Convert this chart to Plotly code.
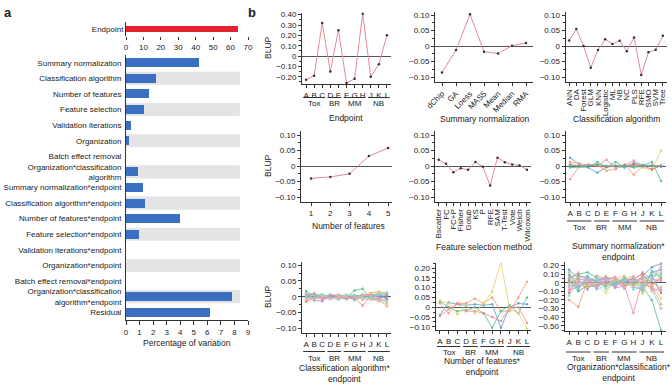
import plotly.graph_objects as go

W, H = 672, 390

# ---------------- DATA ----------------
endpoint_label = ["Endpoint"]
endpoint_pct = [64.5]

factor_labels = [
    "Summary normalization", "Classification algorithm", "Number of features",
    "Feature selection", "Validation iterations", "Organization", "Batch effect removal",
    "Organization*classification<br>algorithm", "Summary normalization*endpoint",
    "Classification algorithm*endpoint", "Number of features*endpoint",
    "Feature selection*endpoint", "Validation iterations*endpoint",
    "Organization*endpoint", "Batch effect removal*endpoint",
    "Organization*classification<br>algorithm*endpoint", "Residual",
]
factor_pct = [5.4, 2.2, 1.7, 1.35, 0.4, 0.2, 0.0, 0.9, 1.25, 1.4, 4.0, 0.95, 0.0, 0.0, 0.0, 7.8, 6.2]

endpoints = ["A", "B", "C", "D", "E", "F", "G", "H", "J", "K", "L"]
endpoint_groups = ["Tox", "BR", "MM", "NB"]
group_members = [["A", "B", "C"], ["D", "E"], ["F", "G", "H"], ["J", "K", "L"]]
blup_endpoint = [-0.23, -0.19, 0.32, -0.15, 0.25, -0.26, -0.22, 0.41, -0.20, -0.08, 0.20]

norm_methods = ["dChip", "GA", "Loess", "MAS5", "Mean", "Median", "RMA"]
blup_norm = [-0.085, -0.013, 0.103, -0.018, -0.024, 0.001, 0.010]

class_algs = ["ANN", "DA", "Forest", "GLM", "KNN", "Logistic", "ML", "NB", "NC", "PLS", "RFE", "SMO", "SVM", "Tree"]
blup_class = [0.018, 0.055, 0.0, -0.070, -0.013, 0.022, 0.007, 0.017, -0.017, 0.028, -0.093, -0.020, -0.012, 0.033]

n_features = [1, 2, 3, 4, 5]
blup_nfeat = [-0.040, -0.035, -0.025, 0.032, 0.058]

fs_methods = ["Bscatter", "FC", "FC+P", "Fisher", "Golub", "KS", "P", "RFE", "SAM", "T-Test", "Vote", "Welch", "Wilcoxon"]
blup_fs = [0.020, 0.007, -0.020, -0.007, -0.012, 0.013, -0.002, -0.063, 0.027, 0.012, 0.005, 0.002, -0.012]

# Summary normalization * endpoint (one list per normalization method)
sn_dChip = [0.027, 0.005, -0.005, -0.022, -0.003, 0.000, -0.005, 0.010, 0.003, 0.000, 0.002]
sn_GA = [0.013, 0.008, 0.003, 0.003, -0.015, -0.010, 0.005, -0.028, 0.000, 0.003, 0.000]
sn_Loess = [-0.005, -0.003, -0.003, 0.013, -0.003, 0.013, -0.003, 0.005, 0.002, 0.013, -0.048]
sn_MAS5 = [-0.043, -0.002, 0.005, 0.003, 0.020, -0.005, 0.002, 0.018, 0.000, 0.000, 0.000]
sn_Mean = [0.003, 0.000, 0.002, 0.000, 0.000, 0.003, 0.000, 0.000, -0.005, -0.013, 0.050]
sn_Median = [0.005, 0.000, 0.000, 0.000, -0.003, 0.000, 0.002, 0.003, 0.000, -0.010, 0.000]
sn_RMA = [0.000, 0.000, 0.000, 0.005, 0.000, 0.000, 0.000, -0.005, 0.000, 0.000, -0.002]

# Classification algorithm * endpoint
ca_ANN = [0.010, -0.005, 0.003, 0.002, -0.004, 0.003, 0.000, 0.002, 0.005, 0.008, -0.006]
ca_DA = [-0.012, 0.008, -0.004, 0.005, 0.004, -0.006, 0.005, -0.010, 0.012, 0.015, 0.004]
ca_Forest = [0.018, 0.003, 0.006, -0.003, 0.002, -0.002, 0.020, 0.025, -0.006, -0.012, -0.010]
ca_GLM = [-0.006, 0.002, -0.008, 0.006, -0.006, 0.004, -0.005, -0.028, 0.004, -0.004, 0.006]
ca_KNN = [0.004, 0.012, 0.002, -0.004, 0.006, 0.005, 0.003, 0.006, 0.010, 0.016, 0.012]
ca_Logistic = [-0.015, -0.003, 0.004, 0.003, -0.003, -0.004, -0.006, 0.004, -0.003, -0.007, 0.002]
ca_ML = [0.006, 0.000, -0.002, -0.006, 0.004, 0.002, -0.010, 0.000, 0.002, 0.004, -0.003]
ca_NB = [0.002, -0.012, -0.014, 0.003, 0.000, -0.008, 0.004, 0.003, -0.002, 0.003, 0.008]
ca_NC = [-0.004, 0.006, 0.005, -0.002, -0.010, 0.002, 0.006, -0.004, -0.008, -0.006, -0.018]
ca_PLS = [0.012, 0.004, -0.003, 0.008, 0.003, -0.006, -0.002, 0.008, 0.006, 0.010, 0.014]
ca_RFE = [-0.010, -0.006, 0.004, -0.006, -0.004, 0.004, 0.002, -0.006, -0.010, -0.014, -0.022]
ca_SMO = [0.003, 0.010, -0.006, 0.002, 0.006, -0.003, -0.004, 0.003, 0.004, -0.002, -0.006]
ca_SVM = [-0.002, -0.004, 0.008, -0.004, 0.002, 0.006, 0.004, -0.002, -0.004, 0.006, 0.010]
ca_Tree = [0.005, -0.008, -0.002, -0.008, 0.004, -0.002, -0.006, 0.004, 0.002, -0.010, -0.030]

# Number of features * endpoint
nf_1 = [-0.040, 0.025, 0.015, 0.010, 0.015, 0.010, 0.015, -0.105, 0.000, 0.020, 0.015]
nf_2 = [0.020, -0.030, 0.020, 0.020, 0.045, 0.020, 0.050, -0.020, -0.020, 0.050, 0.130]
nf_3 = [0.030, 0.000, -0.020, -0.015, 0.000, -0.030, -0.105, -0.020, 0.010, -0.030, 0.050]
nf_4 = [-0.045, -0.010, 0.020, -0.020, -0.020, -0.030, -0.050, -0.070, 0.000, 0.000, -0.080]
nf_5 = [0.035, 0.020, -0.035, 0.010, -0.030, 0.020, 0.080, 0.230, -0.010, -0.030, -0.110]

# Organization * classification algorithm * endpoint (subset of combinations)
oc_01 = [0.15, 0.05, 0.02, -0.03, 0.01, 0.00, 0.03, -0.02, 0.08, 0.18, 0.22]
oc_02 = [-0.20, -0.28, 0.02, 0.03, -0.01, 0.02, 0.00, 0.05, -0.02, -0.05, 0.10]
oc_03 = [0.05, 0.10, 0.12, 0.06, 0.03, -0.02, 0.02, 0.01, -0.05, -0.20, -0.55]
oc_04 = [-0.08, -0.05, 0.00, 0.08, 0.05, 0.02, -0.03, -0.35, 0.03, 0.02, -0.08]
oc_05 = [0.10, -0.02, -0.06, -0.02, -0.12, 0.03, 0.05, 0.08, -0.13, 0.05, 0.20]
oc_06 = [-0.12, 0.08, 0.05, 0.02, 0.06, -0.05, 0.02, 0.04, 0.10, -0.02, 0.05]
oc_07 = [0.02, -0.10, -0.03, -0.05, 0.04, 0.06, -0.02, 0.00, 0.05, 0.08, -0.12]
oc_08 = [0.08, 0.03, -0.08, 0.05, 0.00, -0.04, 0.06, -0.05, -0.08, 0.12, 0.15]
oc_09 = [-0.05, 0.06, 0.08, -0.08, -0.03, 0.04, -0.06, 0.02, 0.04, -0.08, -0.30]
oc_10 = [0.12, -0.06, 0.03, 0.00, 0.08, -0.02, 0.03, 0.06, -0.03, 0.10, 0.08]
oc_11 = [-0.02, 0.02, -0.05, 0.04, -0.05, 0.05, 0.08, -0.04, 0.02, -0.03, -0.18]
oc_12 = [0.04, -0.04, 0.06, -0.06, 0.02, -0.06, -0.04, 0.03, 0.12, 0.04, 0.02]
oc_13 = [-0.15, 0.00, -0.02, 0.06, -0.08, 0.01, 0.04, -0.08, -0.05, 0.06, 0.12]
oc_14 = [0.06, 0.12, 0.01, -0.04, 0.03, 0.07, -0.05, 0.02, 0.06, -0.10, -0.05]
oc_15 = [-0.04, -0.03, 0.04, 0.02, 0.05, -0.03, 0.01, 0.07, -0.06, 0.02, 0.18]
oc_16 = [0.00, 0.04, -0.04, -0.02, -0.02, 0.03, -0.02, -0.03, 0.08, -0.04, -0.25]
oc_17 = [0.09, -0.08, 0.07, 0.01, -0.04, -0.01, 0.05, 0.00, -0.10, 0.14, 0.06]
oc_18 = [-0.09, 0.01, -0.01, -0.03, 0.07, 0.04, -0.07, 0.05, 0.00, -0.06, -0.10]

# ---------------- STYLE ----------------
FONT = "Liberation Sans, Arial, Helvetica, sans-serif"
RED = "#e3232b"
BLUE = "#3b6fc1"
BAND = "#e3e4e5"
PINK = "#e5899a"
AXC = "#333333"
PAL = ["#5b9bd5", "#f29b72", "#4fbf8f", "#f08c9c", "#e8cf6a", "#e86a5e", "#3fb0b0",
       "#a58fd6", "#8ec5ef", "#9ed39c", "#f7bf7a", "#cf8fd8", "#7fd8e3", "#f4a7a7",
       "#b5b5e8", "#d8b56a", "#6fc7b6", "#e79bc2"]


def dx(a, b):
    return [a / W, b / W]


def dy(top, bottom):
    return [1 - bottom / H, 1 - top / H]


def py(p):
    return 1 - p / H


def px(p):
    return p / W


AX = dict(showline=True, linecolor=AXC, linewidth=1, ticks="outside", ticklen=3,
          tickcolor=AXC, tickwidth=1, tickfont=dict(size=8, color="#222", family=FONT),
          showgrid=False, zeroline=False, automargin=False, fixedrange=True)

fig = go.Figure()

# ---------------- PANEL A ----------------
fig.add_trace(go.Bar(x=endpoint_pct, y=endpoint_label, orientation="h", width=0.45,
                     marker=dict(color=RED, line=dict(width=0)), xaxis="x", yaxis="y",
                     showlegend=False))
fig.add_trace(go.Bar(x=factor_pct, y=factor_labels, orientation="h", width=0.58,
                     marker=dict(color=BLUE, line=dict(width=0)), xaxis="x2", yaxis="y2",
                     showlegend=False))

layout = dict(
    width=W, height=H, autosize=False, margin=dict(l=0, r=0, t=0, b=0, pad=0), template="none",
    paper_bgcolor="white", plot_bgcolor="rgba(0,0,0,0)", showlegend=False,
    font=dict(family=FONT, size=8, color="#222"),
)

layout["xaxis"] = dict(AX, domain=dx(126, 248), range=[0, 70], anchor="y",
                       tickvals=[0, 10, 20, 30, 40, 50, 60, 70], showline=False, ticklen=3)
layout["yaxis"] = dict(AX, domain=dy(22, 36), anchor="x", ticks="", type="category")
layout["xaxis2"] = dict(AX, domain=dx(126, 248), range=[0, 9], anchor="y2", dtick=1, ticklen=4)
layout["yaxis2"] = dict(AX, domain=dy(55, 320), anchor="x2", ticks="", autorange="reversed",
                        type="category", ticklabelstandoff=2)

shapes = []
annotations = []


def note(text, x, y, xref="paper", size=8.5, **kw):
    annotations.append(dict(text=text, xref=xref, yref="paper", x=x, y=y, showarrow=False,
                            xanchor="center", yanchor="middle", font=dict(size=size), **kw))


for i in range(len(factor_labels)):
    if i % 2 == 1:
        shapes.append(dict(type="rect", xref="x2", yref="y2", x0=0, x1=8.4, y0=i - 0.42, y1=i + 0.42,
                           fillcolor=BAND, line=dict(width=0), layer="below"))

note("Percentage of variation", 4.5, py(343), xref="x2")
note("<b>a</b>", px(8), py(12), size=13)
note("<b>b</b>", px(252), py(12), size=13)


# ---------------- PANEL B ----------------
def ytick_set(vals):
    txt = []
    for v in vals:
        if abs(v) < 1e-9:
            txt.append("0")
        elif v < 0:
            txt.append("\u2212" + f"{-v:.2f}")
        else:
            txt.append(f"{v:.2f}")
    return txt


def add_panel(k, xdom, ydom, yrange, yvals, minor_dt, xcfg):
    xa = "xaxis%d" % k
    ya = "yaxis%d" % k
    layout[xa] = dict(AX, domain=dx(*xdom), anchor="y%d" % k, **xcfg)
    layout[ya] = dict(AX, domain=dy(*ydom), anchor="x%d" % k, range=yrange,
                      tickvals=yvals, ticktext=ytick_set(yvals), zeroline=True,
                      zerolinecolor="#555", zerolinewidth=1,
                      minor=dict(ticks="outside", ticklen=2, dtick=minor_dt, tickcolor=AXC))


def cat_cfg(cats, angle=0):
    return dict(type="category", categoryorder="array", categoryarray=cats,
                range=[-0.5, len(cats) - 0.5], tickmode="array", tickvals=cats, ticktext=cats,
                tickangle=angle)


y10 = [-0.10, -0.05, 0, 0.05, 0.10]

# 3: endpoint
add_panel(3, (302, 391), (12.6, 84), [-0.27, 0.42], [-0.2, -0.1, 0, 0.1, 0.2, 0.3, 0.4], 0.05,
          cat_cfg(endpoints))
# 4: summary normalization
add_panel(4, (435, 533), (12, 82), [-0.116, 0.11], y10, 0.025, cat_cfg(norm_methods, -45))
# 5: classification algorithm
add_panel(5, (565.5, 666.5), (12, 82), [-0.116, 0.11], y10, 0.025, cat_cfg(class_algs, -90))
# 6: number of features
add_panel(6, (301, 392), (131, 202), [-0.116, 0.113], y10, 0.025,
          dict(range=[0.48, 5.2], tickvals=n_features, tickangle=0))
# 7: feature selection
add_panel(7, (435, 530.6), (131, 202), [-0.116, 0.113], y10, 0.025, cat_cfg(fs_methods, -90))
# 8: summary normalization * endpoint
add_panel(8, (565.5, 665.6), (131, 202), [-0.116, 0.113], y10, 0.025, cat_cfg(endpoints))
# 9: classification * endpoint
add_panel(9, (302, 391), (262, 333), [-0.115, 0.11], y10, 0.025, cat_cfg(endpoints))
# 10: number of features * endpoint
add_panel(10, (435.6, 531.4), (263, 330), [-0.116, 0.226],
          [-0.10, -0.05, 0, 0.05, 0.10, 0.15, 0.20], 0.025, cat_cfg(endpoints))
# 11: organization * classification * endpoint
add_panel(11, (564.5, 665.6), (262, 331), [-0.56, 0.24],
          [-0.5, -0.4, -0.3, -0.2, -0.1, 0, 0.1, 0.2], 0.05, cat_cfg(endpoints))


def single(k, xs, ys):
    fig.add_trace(go.Scatter(x=xs, y=ys, mode="lines+markers", xaxis="x%d" % k, yaxis="y%d" % k,
                             line=dict(color=PINK, width=1),
                             marker=dict(size=2.5, color="#333"), showlegend=False))


def multi(k, series):
    for j, ys in enumerate(series):
        c = PAL[j % len(PAL)]
        fig.add_trace(go.Scatter(x=endpoints, y=ys, mode="lines+markers", xaxis="x%d" % k,
                                 yaxis="y%d" % k, line=dict(color=c, width=0.9),
                                 marker=dict(size=2.5, color=c), opacity=0.9, showlegend=False))


single(3, endpoints, blup_endpoint)
single(4, norm_methods, blup_norm)
single(5, class_algs, blup_class)
single(6, n_features, blup_nfeat)
single(7, fs_methods, blup_fs)
multi(8, [sn_dChip, sn_GA, sn_Loess, sn_MAS5, sn_Mean, sn_Median, sn_RMA])
multi(9, [ca_ANN, ca_DA, ca_Forest, ca_GLM, ca_KNN, ca_Logistic, ca_ML, ca_NB, ca_NC, ca_PLS,
          ca_RFE, ca_SMO, ca_SVM, ca_Tree])
multi(10, [nf_1, nf_2, nf_3, nf_4, nf_5])
multi(11, [oc_01, oc_02, oc_03, oc_04, oc_05, oc_06, oc_07, oc_08, oc_09, oc_10, oc_11, oc_12,
           oc_13, oc_14, oc_15, oc_16, oc_17, oc_18])


# group labels under endpoint axes
def groups(k, line_y, text_y):
    for g, members in zip(endpoint_groups, group_members):
        i0 = endpoints.index(members[0])
        i1 = endpoints.index(members[-1])
        shapes.append(dict(type="line", xref="x%d" % k, yref="paper", x0=i0 - 0.35, x1=i1 + 0.35,
                           y0=py(line_y), y1=py(line_y), line=dict(color=AXC, width=1)))
        note(g, (i0 + i1) / 2, py(text_y), xref="x%d" % k, size=8)


groups(3, 97.5, 103.5)
groups(8, 221, 227)
groups(9, 351.5, 358)
groups(10, 346.5, 352.5)
groups(11, 352, 358)

titles = [
    ("Endpoint", 346, 118),
    ("Summary normalization", 485, 119),
    ("Classification algorithm", 616, 119),
    ("Number of features", 348, 226),
    ("Feature selection method", 484, 247),
    ("Summary normalization*<br>endpoint", 618, 251.5),
    ("Classification algorithm*<br>endpoint", 345, 373),
    ("Number of features*<br>endpoint", 482, 366),
    ("Organization*classification*<br>endpoint", 619, 372.5),
]
for t, x, y in titles:
    note(t, px(x), py(y))

for yy in [48, 166, 297]:
    note("BLUP", px(268), py(yy), textangle=-90)

layout["shapes"] = shapes
layout["annotations"] = annotations
layout["bargap"] = 0
fig.update_layout(**layout)

fig.write_html("out.html", config={"responsive": False, "displayModeBar": False},
               post_script="document.body.style.margin='0';document.body.style.overflow='hidden';")
